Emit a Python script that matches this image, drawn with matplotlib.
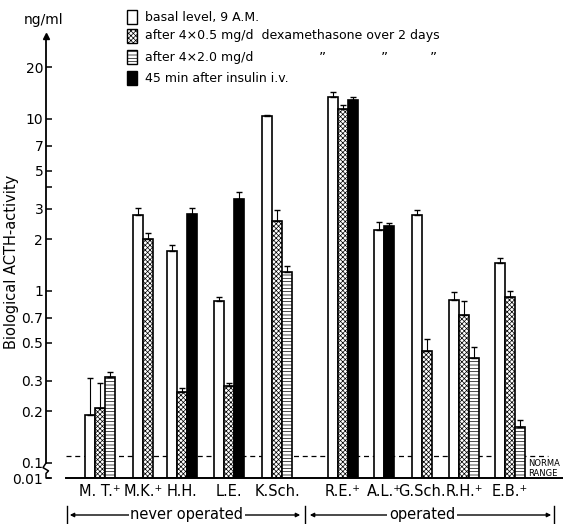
import matplotlib
matplotlib.use("Agg")
import matplotlib.pyplot as plt
from matplotlib.patches import Rectangle
import numpy as np

# ---------------- data ----------------
patients = ["M. T.\u207a", "M.K.\u207a", "H.H.", "L.E.", "K.Sch.",
            "R.E.\u207a", "A.L.\u207a", "G.Sch.", "R.H.\u207a", "E.B.\u207a"]
basal      = [0.19, 2.77, 1.71, 0.875, 10.4, 13.4, 2.26, 2.77, 0.89, 1.46]
basal_err  = [0.12, 0.27, 0.14, 0.045, 0.15, 1.0, 0.26, 0.19, 0.10, 0.10]
dexa05     = [0.21, 2.0, 0.26, 0.28, 2.55, 11.4, None, 0.448, 0.73, 0.92]
dexa05_err = [0.08, 0.17, 0.012, 0.012, 0.41, 0.7, None, 0.08, 0.14, 0.08]
dexa20     = [0.316, None, None, None, 1.29, None, None, None, 0.41, 0.161]
dexa20_err = [0.024, None, None, None, 0.11, None, None, None, 0.06, 0.017]
insulin    = [None, None, 2.8, 3.43, None, 12.9, 2.39, None, None, None]
insulin_err= [None, None, 0.24, 0.33, None, 0.5, 0.1, None, None, None]
normal_upper = 0.11

legend_labels = ["basal level, 9 A.M.",
                 "after 4\u00d70.5 mg/d  dexamethasone over 2 days",
                 "after 4\u00d72.0 mg/d",
                 "45 min after insulin i.v."]
ytick_vals = [0.1, 0.2, 0.3, 0.5, 0.7, 1, 2, 3, 5, 7, 10, 20]
ytick_labels = ["0.1", "0.2", "0.3", "0.5", "0.7", "1", "2", "3", "5", "7", "10", "20"]

# ---------------- layout ----------------
W, H = 563, 524
group_left = [85, 133, 167, 214, 262, 328, 374, 412, 449, 495]
bar_w = 10
y_bottom = 10 ** ((291 - 478) / 172)
y_top = 10 ** ((291 - 36) / 172)

plt.rcParams['hatch.linewidth'] = 0.5
plt.rcParams['font.family'] = ['DejaVu Sans']

fig = plt.figure(figsize=(W / 100, H / 100), dpi=100)
ax = fig.add_axes([46 / W, 1 - 478 / H, (W - 46) / W, (478 - 36) / H])
ax.set_yscale('log')
ax.set_xlim(46, W)
ax.set_ylim(y_bottom, y_top)

styles = [
    dict(facecolor='white', hatch=None),
    dict(facecolor='white', hatch='xxxxxxx'),
    dict(facecolor='white', hatch='-----'),
    dict(facecolor='black', hatch=None),
]
series = [(basal, basal_err), (dexa05, dexa05_err), (dexa20, dexa20_err), (insulin, insulin_err)]

centers = []
for i, left in enumerate(group_left):
    pos = left
    for s, (vals, errs) in enumerate(series):
        v = vals[i]
        if v is None:
            continue
        st = styles[s]
        ax.bar(pos, v - y_bottom, bottom=y_bottom, width=bar_w, align='edge',
               facecolor=st['facecolor'], edgecolor='black', linewidth=1.2,
               hatch=st['hatch'], zorder=3)
        ax.errorbar(pos + bar_w / 2, v, yerr=[[0], [errs[i]]], fmt='none',
                    ecolor='black', elinewidth=0.8, capsize=2, capthick=1.0, zorder=4)
        pos += bar_w
    centers.append((left + pos) / 2)

# normal range dashed line
ax.plot([66, 548], [normal_upper, normal_upper], color='black', lw=0.9,
        ls=(0, (4, 3)), zorder=1)
# baseline
ax.plot([66, W], [y_bottom, y_bottom], color='black', lw=1.4, zorder=5, clip_on=False)

# spines / ticks
for sp in ['top', 'right', 'bottom']:
    ax.spines[sp].set_visible(False)
ax.spines['left'].set_bounds(0.1, y_top)
ax.spines['left'].set_linewidth(1.3)
ax.set_yticks(ytick_vals + [4, y_bottom])
ax.set_yticklabels(ytick_labels + ["", "0.01"])
ax.yaxis.set_minor_locator(matplotlib.ticker.NullLocator())
ax.tick_params(axis='y', direction='in', length=4, width=1.1, labelsize=10, pad=2)
ax.set_xticks([])
# arrow on top of y axis
ax.plot([46], [y_top], marker='^', color='black', markersize=4, clip_on=False)
# axis break
ax.plot([46, 43, 48.5, 46, 46, 50],
        [0.1, 0.094, 0.090, 0.087, y_bottom, y_bottom],
        color='black', lw=1.1, clip_on=False)

# x labels
for c, lab in zip(centers, patients):
    fig.text(c / W, 1 - 491 / H, lab, ha='center', va='center', fontsize=10.5)

# normal range text
fig.text(528 / W, 1 - 463 / H, "NORMA", fontsize=6, va='center', ha='left')
fig.text(528 / W, 1 - 473 / H, "RANGE", fontsize=6, va='center', ha='left')

# y label and unit
fig.text(12 / W, 1 - 262 / H, "Biological ACTH-activity", rotation=90,
         ha='center', va='center', fontsize=10.5)
fig.text(44 / W, 1 - 20 / H, "ng/ml", ha='center', va='center', fontsize=10)

# legend
leg_rows = [17, 36, 57, 78]
for r, (yy, lab) in enumerate(zip(leg_rows, legend_labels)):
    st = styles[r]
    rect = Rectangle((127 / W, 1 - (yy + 7) / H), 10 / W, 14 / H,
                     transform=fig.transFigure, facecolor=st['facecolor'],
                     edgecolor='black', linewidth=1.0, hatch=st['hatch'])
    fig.add_artist(rect)
    fig.text(145 / W, 1 - yy / H, lab, ha='left', va='center', fontsize=9)
for dx in [322, 384, 433]:
    fig.text(dx / W, 1 - 58 / H, "\u201d", ha='center', va='center', fontsize=10)

# brackets
by = 1 - 515 / H
def fline(xs, ys, **kw):
    fig.add_artist(plt.Line2D([x / W for x in xs], [1 - y / H for y in ys],
                              color='black', lw=1.0, **kw))
fline([67, 67], [506, 523])
fline([305, 305], [506, 523])
fline([554, 554], [506, 523])
for x0, x1, txt, tc in [(67, 303, "never operated", 187), (307, 554, "operated", 422)]:
    fig.add_artist(matplotlib.patches.FancyArrowPatch(
        (x0 / W, by), (x1 / W, by), transform=fig.transFigure,
        arrowstyle='<|-|>', mutation_scale=6, color='black', lw=1.0))
    fig.text(tc / W, by, txt, ha='center', va='center', fontsize=10.5,
             bbox=dict(facecolor='white', edgecolor='none', pad=1))

fig.savefig("out.png", dpi=100)
